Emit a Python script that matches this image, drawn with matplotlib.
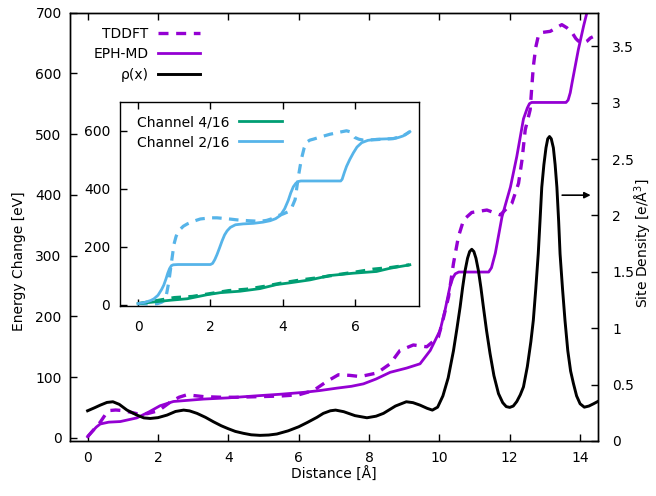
import matplotlib
matplotlib.use("Agg")
import matplotlib.pyplot as plt
from matplotlib.ticker import FuncFormatter

plt.rcParams['font.family'] = ['DejaVu Sans']
plt.rcParams['mathtext.fontset'] = 'dejavusans'

# ---------------- data (main panel) ----------------
eph_x = [0, 0.12, 0.25, 0.36, 0.6, 0.93, 1.4, 1.75, 2.06, 2.44, 3.3, 4.0, 4.72, 5.5,
         6.14, 6.6, 7.09, 7.5, 7.84, 8.2, 8.6, 9.07, 9.45, 9.74, 10.02, 10.16, 10.3,
         10.38, 10.45, 10.55, 11.4, 11.48, 11.59, 11.78, 12.02, 12.2, 12.39, 12.5,
         12.56, 12.62, 13.6, 13.66, 13.72, 13.77, 13.95, 14.1, 14.22]
eph_e = [2, 10, 18, 23, 26, 27, 33, 43, 53, 60, 64, 66, 69, 72,
         75, 78, 82, 85, 89, 97, 108, 115, 122, 144, 177, 210, 249,
         263, 270, 273, 273, 280, 304, 364, 413, 463, 525, 543,
         550, 552, 552, 556, 568, 584, 639, 678, 706]

tddft_x = [0, 0.15, 0.36, 0.5, 0.6, 0.8, 1.02, 1.4, 1.7, 2.02, 2.35, 2.6, 2.82, 3.3,
           3.8, 4.24, 4.9, 5.48, 6.0, 6.42, 6.8, 7.13, 7.45, 7.75, 8.23, 8.6, 8.88,
           9.26, 9.64, 9.97, 10.1, 10.26, 10.4, 10.54, 10.69, 10.92, 11.35, 11.73,
           12.06, 12.25, 12.35, 12.44, 12.58, 12.63, 12.67, 12.74, 12.81, 12.9,
           13.15, 13.3, 13.48, 13.62, 13.77, 13.88, 13.95, 14.1, 14.2, 14.29, 14.36]
tddft_e = [2, 12, 26, 38, 45, 46, 45, 40, 40, 45, 59, 67, 71, 68,
           67, 67, 68, 69, 71, 78, 93, 104, 103, 101, 107, 122, 144,
           153, 150, 166, 194, 232, 287, 331, 359, 371, 375, 367,
           386, 419, 458, 507, 540, 580, 611, 643, 661, 667,
           669, 674, 680, 675, 667, 657, 653, 650, 653, 658, 660]

rho_x = [0, 0.2, 0.36, 0.55, 0.72, 0.9, 1.12, 1.4, 1.6, 1.78, 2.0, 2.26, 2.5, 2.73,
         2.9, 3.11, 3.35, 3.58, 3.8, 3.99, 4.2, 4.43, 4.65, 4.9, 5.15, 5.38, 5.7,
         6.0, 6.25, 6.52, 6.7, 6.9, 7.05, 7.28, 7.6, 7.94, 8.2, 8.41, 8.75, 9.06,
         9.25, 9.45, 9.65, 9.8, 9.95, 10.1, 10.25, 10.4, 10.5, 10.59, 10.66, 10.73,
         10.8, 10.86, 10.92, 10.98, 11.04, 11.11, 11.18, 11.25, 11.34, 11.44, 11.55,
         11.68, 11.8, 11.9, 12.0, 12.1, 12.2, 12.3, 12.39, 12.5, 12.6, 12.67, 12.74,
         12.81, 12.86, 12.91, 12.97, 13.03, 13.08, 13.13, 13.18, 13.24, 13.29, 13.34,
         13.39, 13.43, 13.5, 13.57, 13.65, 13.73, 13.81, 13.9, 14.0, 14.12, 14.25,
         14.38, 14.5]
rho_y = [0.268, 0.295, 0.318, 0.342, 0.348, 0.325, 0.274, 0.23, 0.205, 0.20, 0.207,
         0.23, 0.262, 0.274, 0.267, 0.245, 0.21, 0.17, 0.135, 0.11, 0.085, 0.068,
         0.055, 0.05, 0.053, 0.062, 0.09, 0.126, 0.165, 0.21, 0.245, 0.268, 0.274,
         0.26, 0.225, 0.206, 0.22, 0.245, 0.31, 0.348, 0.34, 0.318, 0.29, 0.274,
         0.30, 0.40, 0.56, 0.80, 1.0, 1.19, 1.36, 1.51, 1.62, 1.68, 1.70, 1.68, 1.62,
         1.51, 1.36, 1.19, 0.98, 0.775, 0.58, 0.42, 0.34, 0.305, 0.298, 0.31, 0.35,
         0.41, 0.48, 0.66, 0.88, 1.07, 1.35, 1.66, 1.95, 2.25, 2.45, 2.6, 2.68, 2.70,
         2.68, 2.6, 2.45, 2.25, 1.95, 1.66, 1.35, 1.07, 0.8, 0.62, 0.51, 0.40, 0.33,
         0.30, 0.31, 0.33, 0.35]

# ---------------- data (inset) ----------------
ch2_eph_x = [0, 0.2, 0.35, 0.44, 0.55, 0.65, 0.71, 0.77, 0.82, 0.87, 0.92, 0.97, 1.1,
             2.0, 2.06, 2.12, 2.18, 2.25, 2.32, 2.39, 2.46, 2.55, 2.69, 2.9, 3.19, 3.45,
             3.65, 3.8, 3.93, 4.05, 4.15, 4.22, 4.29, 4.36, 4.42, 4.5, 5.6, 5.64, 5.7,
             5.76, 5.85, 5.95, 6.05, 6.18, 6.35, 6.59, 7.05, 7.2, 7.32, 7.42, 7.51]
ch2_eph_e = [3, 8, 14, 20, 32, 52, 67, 88, 108, 124, 134, 137, 138,
             138, 142, 155, 172, 195, 219, 240, 254, 266, 275, 278, 280, 284,
             289, 296, 307, 330, 359, 385, 406, 418, 424, 426, 426, 432, 455,
             476, 500, 523, 543, 558, 566, 570, 572, 576, 581, 588, 596]

ch2_td_x = [0, 0.3, 0.53, 0.65, 0.72, 0.76, 0.8, 0.85, 0.9, 0.95, 0.99, 1.05, 1.12,
            1.25, 1.36, 1.55, 1.72, 2.0, 2.18, 2.45, 2.73, 3.05, 3.37, 3.55, 3.7, 3.88,
            4.0, 4.15, 4.25, 4.34, 4.43, 4.48, 4.52, 4.59, 4.66, 4.75, 4.84, 5.05, 5.3,
            5.6, 5.76, 5.85, 5.92, 5.99, 6.1, 6.22, 6.5, 6.77, 7.05, 7.32, 7.51]
ch2_td_e = [3, 2, 3, 8, 14, 20, 45, 79, 125, 170, 207, 235, 254,
            270, 278, 288, 295, 299, 299, 296, 292, 289, 287, 290, 296, 307,
            312, 320, 335, 362, 441, 478, 505, 540, 560, 567, 570, 578, 587,
            595, 599, 596, 586, 576, 570, 567, 568, 570, 572, 581, 596]

ch4_eph_x = [0, 0.44, 0.9, 1.36, 1.91, 2.27, 2.82, 3.37, 3.83, 4.2, 4.75, 5.3, 5.94,
             6.59, 6.96, 7.51]
ch4_eph_e = [3, 9, 15, 20, 34, 41, 46, 55, 69, 75, 85, 100, 108, 114, 125, 137]

ch4_td_x = [0, 0.44, 1.0, 1.5, 2.0, 2.5, 3.0, 3.5, 4.0, 4.5, 5.0, 5.5, 6.0, 6.5, 7.0, 7.5]
ch4_td_e = [3, 12, 24, 28, 38, 48, 53, 63, 75, 85, 93, 103, 112, 122, 128, 137]

main_xticks = [0, 2, 4, 6, 8, 10, 12, 14]
main_yticks = [0, 100, 200, 300, 400, 500, 600, 700]
rho_ticks = [0, 0.5, 1, 1.5, 2, 2.5, 3, 3.5]
inset_xticks = [0, 2, 4, 6]
inset_yticks = [0, 200, 400, 600]

PURPLE = '#9400D3'
GREEN = '#009E73'
BLUE = '#56B4E9'
FS = 10
DASH = (3.0, 2.3)

def fmt(v, pos):
    return ('%g' % v)

fig = plt.figure(figsize=(6.56, 4.96), dpi=100)
AX_L, AX_R, AX_T, AX_B = 70, 597.7, 12.5, 441
ax = fig.add_axes([AX_L/656, 1 - AX_B/496, (AX_R - AX_L)/656, (AX_B - AX_T)/496])
ax2 = ax.twinx()

l1, = ax.plot(tddft_x, tddft_e, color=PURPLE, lw=2.4, dashes=DASH, label='TDDFT')
l2, = ax.plot(eph_x, eph_e, color=PURPLE, lw=2.0, label='EPH-MD')
l3, = ax2.plot(rho_x, rho_y, color='black', lw=2.1, label='ρ(x)')

ax.set_xlim(-0.5, 14.5)
ax.set_ylim(-5, 700)
ax2.set_ylim(0, 3.8)
ax.set_xticks(main_xticks)
ax.set_yticks(main_yticks)
ax2.set_yticks(rho_ticks)
ax2.yaxis.set_major_formatter(FuncFormatter(fmt))
ax.tick_params(axis='x', direction='in', length=5, width=1, labelsize=FS, top=True,
               pad=7.0)
ax.tick_params(axis='y', direction='in', length=5, width=1, labelsize=FS, right=False,
               pad=6.0)
ax2.tick_params(axis='y', direction='in', length=5, width=1, labelsize=FS, pad=10.5)
for a in (ax, ax2):
    for s in a.spines.values():
        s.set_linewidth(1.0)
ax.set_xlabel('Distance [Å]', fontsize=FS, labelpad=1.5)
ax.set_ylabel('Energy Change [eV]', fontsize=FS)
ax.yaxis.set_label_coords((26 - AX_L)/(AX_R - AX_L), (AX_B - 261)/(AX_B - AX_T))
ax2.set_ylabel('Site Density [e/Å$^3$]', fontsize=FS)
ax2.yaxis.set_label_coords((633 - AX_L)/(AX_R - AX_L), (AX_B - 243)/(AX_B - AX_T))

ax2.annotate('', xy=(14.3, 2.18), xytext=(13.49, 2.18),
             arrowprops=dict(arrowstyle='-|>', color='black', lw=1.2,
                             mutation_scale=9, shrinkA=0, shrinkB=0))

leg = ax2.legend(handles=[l1, l2, l3], loc='upper right',
                 bbox_to_anchor=((200 - AX_L)/(AX_R - AX_L), (AX_B - 27)/(AX_B - AX_T)),
                 frameon=False, markerfirst=False, fontsize=FS, handlelength=3.0,
                 labelspacing=0.45, handletextpad=0.7, borderaxespad=0, borderpad=0)

# ---------------- inset ----------------
IN_L, IN_R, IN_T, IN_B = 120, 418.5, 101.5, 306
axi = fig.add_axes([IN_L/656, 1 - IN_B/496, (IN_R - IN_L)/656, (IN_B - IN_T)/496])
axi.set_zorder(10)
axi.plot(ch4_td_x, ch4_td_e, color=GREEN, lw=2.3, dashes=DASH)
axi.plot(ch2_td_x, ch2_td_e, color=BLUE, lw=2.3, dashes=DASH)
a4, = axi.plot(ch4_eph_x, ch4_eph_e, color=GREEN, lw=2.0, label='Channel 4/16')
a2, = axi.plot(ch2_eph_x, ch2_eph_e, color=BLUE, lw=2.0, label='Channel 2/16')
axi.set_xlim(-0.5, 7.75)
axi.set_ylim(-5, 700)
axi.set_xticks(inset_xticks)
axi.set_yticks(inset_yticks)
axi.tick_params(axis='x', direction='in', length=5, width=1, labelsize=FS, top=True,
                pad=10.0)
axi.tick_params(axis='y', direction='in', length=5, width=1, labelsize=FS, right=False,
                pad=7.0)
for s in axi.spines.values():
    s.set_linewidth(1.0)
axi.legend(handles=[a4, a2], loc='upper left',
           bbox_to_anchor=((137 - IN_L)/(IN_R - IN_L), (IN_B - 115)/(IN_B - IN_T)),
           frameon=False, markerfirst=False, fontsize=FS, handlelength=3.1,
           labelspacing=0.45, handletextpad=0.7, borderaxespad=0, borderpad=0)

fig.savefig('out.png', dpi=100)
